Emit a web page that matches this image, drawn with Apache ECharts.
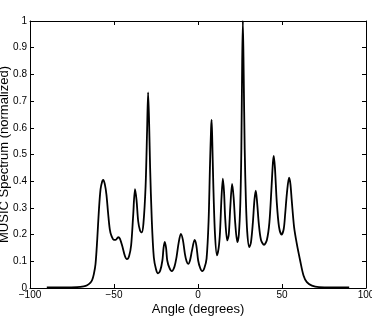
<!DOCTYPE html>
<html>
<head>
<meta charset="utf-8">
<script src="https://cdn.jsdelivr.net/npm/echarts@6/dist/echarts.min.js"></script>
<style>
  html, body { margin: 0; padding: 0; background: #fff; }
  #myChart { width: 372px; height: 320px; }
</style>
</head>
<body>
<div id="myChart"></div>
<script>
// angles (degrees) and normalized MUSIC spectrum
const angles = [
  -90, -80, -72, -68, -66, -64, -63, -62, -61, -60, -59, -58, -57, -56.4, -55.5, -54.5, -53.5, -52.5, -51.5, -50,
  -49, -47.5, -46.5, -45, -43.5, -42.3, -41, -39.8, -38.6, -37.5, -36.6, -35.6, -34.5, -33.5, -32.5, -31.2, -30.3, -29.7, -29.1, -28.5,
  -27.5, -26.3, -25, -23.8, -22.5, -21.2, -20.5, -19.8, -19.0, -18.3, -17, -15.6, -14, -12.8, -11.5, -10.2, -9, -7.8, -6.8, -5.8,
  -4.7, -3.6, -2.0, -1.0, 0.1, 1.3, 2.5, 3.8, 5.1, 6.3, 7.1, 7.8, 8.1, 8.5, 9.1, 10.1, 11.3, 12.3, 13.1, 14.0,
  14.8, 15.5, 16.2, 17.4, 18.3, 19.2, 20.3, 21.2, 22.2, 23.4, 24.3, 25.2, 25.8, 26.3, 26.7, 27.2, 27.8, 28.5, 29.3, 30.5,
  31.5, 32.6, 33.6, 34.4, 35.2, 36.2, 37.5, 39.3, 41, 42.5, 43.7, 44.6, 45.1, 45.8, 46.9, 48.2, 49.7, 51, 51.9, 53,
  54.2, 55, 55.8, 57.2, 58.8, 60.8, 62.8, 64.8, 67.8, 72, 80, 90
];
const spectrum = [
  0.002, 0.002, 0.003, 0.006, 0.01, 0.02, 0.03, 0.052, 0.09, 0.18, 0.29, 0.37, 0.4, 0.405, 0.39, 0.35, 0.28, 0.22, 0.195, 0.18,
  0.18, 0.19, 0.185, 0.155, 0.12, 0.108, 0.12, 0.16, 0.27, 0.37, 0.33, 0.25, 0.215, 0.208, 0.24, 0.38, 0.59, 0.733, 0.62, 0.45,
  0.253, 0.115, 0.07, 0.055, 0.065, 0.103, 0.15, 0.173, 0.15, 0.103, 0.075, 0.063, 0.08, 0.115, 0.17, 0.203, 0.18, 0.128, 0.1, 0.09,
  0.105, 0.14, 0.18, 0.16, 0.103, 0.075, 0.063, 0.075, 0.11, 0.25, 0.45, 0.6, 0.63, 0.55, 0.39, 0.203, 0.122, 0.15, 0.21, 0.34,
  0.41, 0.36, 0.26, 0.178, 0.2, 0.3, 0.39, 0.34, 0.24, 0.172, 0.2, 0.32, 0.52, 0.85, 1.0, 0.8, 0.52, 0.33, 0.21, 0.153,
  0.17, 0.24, 0.33, 0.365, 0.32, 0.24, 0.18, 0.162, 0.18, 0.246, 0.37, 0.47, 0.495, 0.45, 0.32, 0.23, 0.2, 0.22, 0.278, 0.36,
  0.413, 0.39, 0.328, 0.228, 0.166, 0.103, 0.047, 0.022, 0.009, 0.003, 0.002, 0.002
];
const xTicks = [-100, -50, 0, 50, 100];
const yTicks = [0, 0.1, 0.2, 0.3, 0.4, 0.5, 0.6, 0.7, 0.8, 0.9, 1];

let myChart = echarts.init(document.getElementById('myChart'));
let font = 'Liberation Sans, Arial, sans-serif';
let tick = { show: true, inside: true, length: 4, lineStyle: { color: '#000', width: 1 } };
let line = { show: true, onZero: false, lineStyle: { color: '#000', width: 1 } };

let option = {
  animation: false,
  grid: { left: 30, right: 6, top: 21, bottom: 32, containLabel: false, outerBoundsMode: 'none' },
  xAxis: [
    {
      type: 'value',
      min: xTicks[0], max: xTicks[xTicks.length - 1], interval: 50,
      name: 'Angle (degrees)', nameLocation: 'middle', nameGap: 15, nameMoveOverlap: false,
      nameTextStyle: { fontFamily: font, fontSize: 13, color: '#000' },
      axisLine: line, axisTick: tick,
      axisLabel: { fontFamily: font, fontSize: 10, color: '#000', margin: 2,
        formatter: v => String(v).replace('-', '\u2212') },
      splitLine: { show: false }
    },
    {
      type: 'value', position: 'top',
      min: xTicks[0], max: xTicks[xTicks.length - 1], interval: 50,
      axisLine: line, axisTick: tick, axisLabel: { show: false }, splitLine: { show: false }
    }
  ],
  yAxis: [
    {
      type: 'value',
      min: yTicks[0], max: yTicks[yTicks.length - 1], interval: 0.1,
      name: 'MUSIC Spectrum (normalized)', nameLocation: 'middle', nameGap: 19, nameMoveOverlap: false,
      nameTextStyle: { fontFamily: font, fontSize: 13, color: '#000' },
      axisLine: line, axisTick: tick,
      axisLabel: { fontFamily: font, fontSize: 10, color: '#000', margin: 3 },
      splitLine: { show: false }
    },
    {
      type: 'value', position: 'right',
      min: yTicks[0], max: yTicks[yTicks.length - 1], interval: 0.1,
      axisLine: line, axisTick: tick, axisLabel: { show: false }, splitLine: { show: false }
    }
  ],
  series: [
    {
      type: 'line',
      data: angles.map((a, i) => [a, spectrum[i]]),
      showSymbol: false,
      smooth: 0.3,
      lineStyle: { color: '#000', width: 1.8 }
    }
  ]
};
myChart.setOption(option);
</script>
</body>
</html>
